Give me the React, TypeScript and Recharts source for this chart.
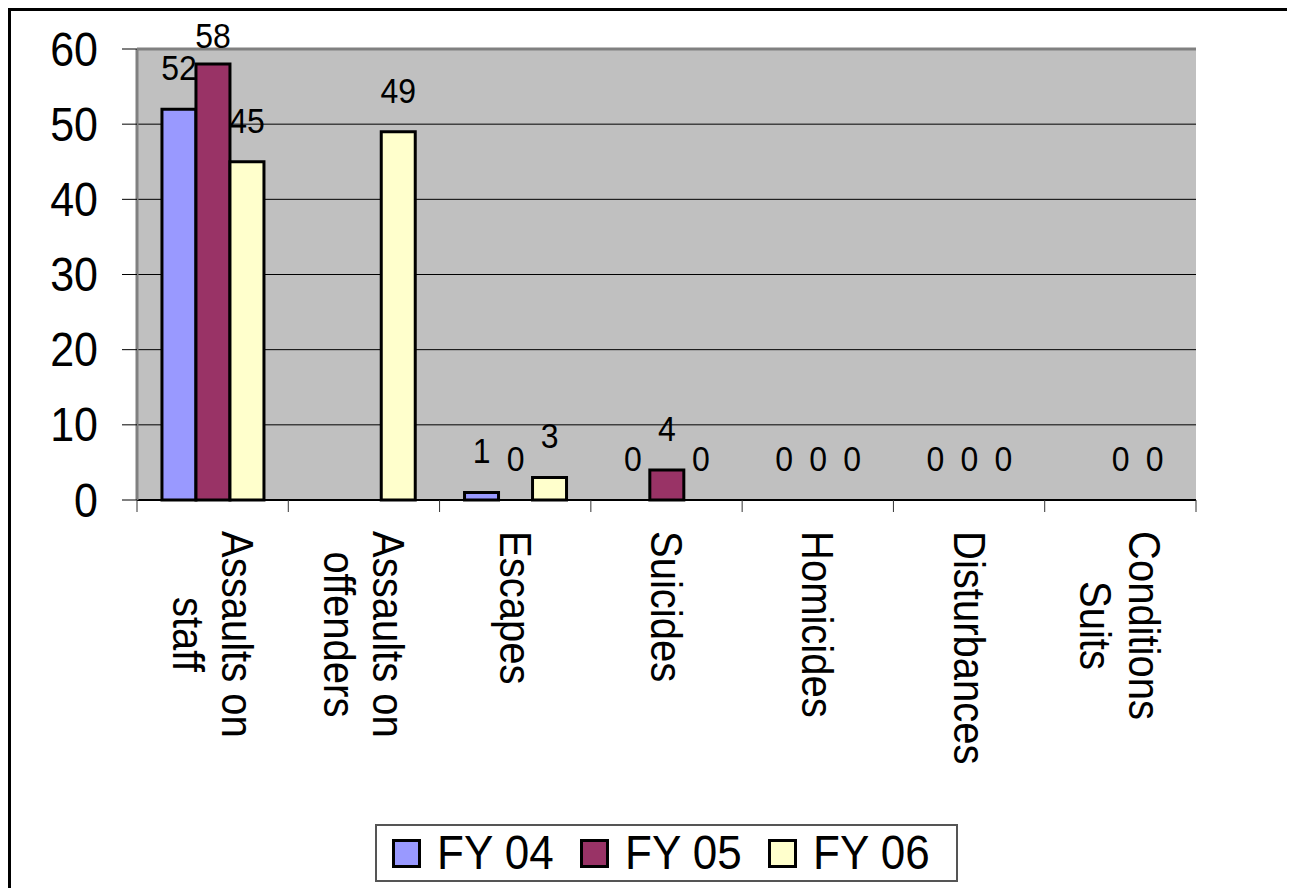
import { Bar, BarChart, CartesianGrid, LabelList, Rectangle, ReferenceLine, XAxis, YAxis } from "recharts";

const CATEGORIES = [
  "Assaults on\nstaff",
  "Assaults on\noffenders",
  "Escapes",
  "Suicides",
  "Homicides",
  "Disturbances",
  "Conditions\nSuits",
];
const FY04 = [52, null, 1, 0, 0, 0, null];
const FY05 = [58, null, 0, 4, 0, 0, 0];
const FY06 = [45, 49, 3, 0, 0, 0, 0];
const Y_TICKS = [0, 10, 20, 30, 40, 50, 60];

const SERIES = [
  { key: "fy04", name: "FY 04", color: "#9999FF" },
  { key: "fy05", name: "FY 05", color: "#993366" },
  { key: "fy06", name: "FY 06", color: "#FFFFCC" },
];

const data = CATEGORIES.map((name, i) => ({
  name,
  fy04: FY04[i],
  fy05: FY05[i],
  fy06: FY06[i],
}));

const FONT = '"Liberation Sans", Arial, sans-serif';
const W = 1281;
const H = 877;
const MARGIN = { top: 38, right: 96, bottom: 0, left: 0 };
const Y_AXIS_W = 126;
const PLOT_BOTTOM = 489;
const BAND = (W - MARGIN.right - MARGIN.left - Y_AXIS_W) / CATEGORIES.length;
const CAT_FONT = 40;
const CAT_LINE = 44.5;

let ctx: CanvasRenderingContext2D | null = null;
function measure(text: string) {
  if (!ctx) ctx = document.createElement("canvas").getContext("2d");
  if (!ctx) return text.length * CAT_FONT * 0.5;
  ctx.font = `${CAT_FONT}px "Liberation Sans", Arial, sans-serif`;
  return ctx.measureText(text).width;
}

function CategoryTick(props: any) {
  const { x, index, payload } = props;
  const lines = String(payload.value).split("\n");
  const maxW = Math.max(...lines.map(measure));
  const half = BAND / 2;
  return (
    <g>
      <line x1={x - half} x2={x - half} y1={PLOT_BOTTOM} y2={PLOT_BOTTOM + 12} stroke="#333" />
      {index === CATEGORIES.length - 1 && (
        <line x1={x + half} x2={x + half} y1={PLOT_BOTTOM} y2={PLOT_BOTTOM + 12} stroke="#333" />
      )}
      <text
        transform={`translate(${x},${PLOT_BOTTOM + 31}) rotate(90) scale(1,1.1)`}
        fontSize={CAT_FONT}
        fontFamily={FONT}
        fill="#000"
      >
        {lines.map((l, i) => (
          <tspan
            key={i}
            x={maxW / 2}
            y={(i - (lines.length - 1) / 2) * CAT_LINE + CAT_FONT * 0.35}
            textAnchor="middle"
          >
            {l}
          </tspan>
        ))}
      </text>
    </g>
  );
}

function ValueTick(props: any) {
  const { x, y, payload } = props;
  return (
    <text
      transform={`translate(${x},${y}) scale(1,1.1)`}
      textAnchor="end"
      dy={15}
      fontSize={43}
      fontFamily={FONT}
      fill="#000"
    >
      {payload.value}
    </text>
  );
}

function ValueLabel(props: any) {
  const { x, y, width, value } = props;
  if (value === null || value === undefined) return null;
  const by = Math.max(Number(y) - 29, 37);
  return (
    <text
      transform={`translate(${Number(x) + Number(width) / 2},${by}) scale(1,1.1)`}
      textAnchor="middle"
      fontSize={32}
      fontFamily={FONT}
      fill="#000"
    >
      {value}
    </text>
  );
}

// zero values still need their label, but no visible rectangle
function BarShape(props: any) {
  if (!(props.height >= 1)) return <g />;
  return <Rectangle {...props} />;
}

export default function App() {
  return (
    <div
      style={{
        position: "relative",
        width: 1287,
        height: 880,
        border: "3px solid #000",
        borderBottom: "none",
        boxSizing: "border-box",
        background: "#fff",
        fontFamily: FONT,
      }}
    >
      <BarChart
        width={W}
        height={H}
        data={data}
        margin={MARGIN}
        barCategoryGap="16.5%"
        barGap={0}
      >
        <CartesianGrid vertical={false} fill="#C0C0C0" stroke="#000" />
        <XAxis
          dataKey="name"
          interval={0}
          height={H - PLOT_BOTTOM}
          tickLine={false}
          axisLine={{ stroke: "#000", strokeWidth: 2 }}
          tick={<CategoryTick />}
        />
        <YAxis
          width={Y_AXIS_W}
          domain={[0, 60]}
          ticks={Y_TICKS}
          interval={0}
          tickSize={15}
          tickMargin={24}
          tickLine={{ stroke: "#000" }}
          axisLine={{ stroke: "#808080", strokeWidth: 3 }}
          tick={<ValueTick />}
        />
        <YAxis
          yAxisId="right"
          orientation="right"
          width={0}
          tick={false}
          tickLine={false}
          axisLine={{ stroke: "#808080", strokeWidth: 3 }}
        />
        <ReferenceLine y={60} stroke="#808080" strokeWidth={3} />
        {SERIES.map((s) => (
          <Bar
            key={s.key}
            dataKey={s.key}
            name={s.name}
            fill={s.color}
            stroke="#000"
            strokeWidth={3}
            minPointSize={0.5}
            shape={<BarShape />}
            isAnimationActive={false}
          >
            <LabelList dataKey={s.key} content={<ValueLabel />} />
          </Bar>
        ))}
      </BarChart>
      <div
        style={{
          position: "absolute",
          left: 364,
          top: 813,
          width: 583,
          height: 58,
          border: "2px solid #555",
          boxSizing: "border-box",
          background: "#fff",
          display: "flex",
          alignItems: "center",
          paddingLeft: 15,
        }}
      >
        {SERIES.map((s) => (
          <div key={s.key} style={{ display: "flex", alignItems: "center", width: 191 }}>
            <span
              style={{
                display: "inline-block",
                width: 29,
                height: 29,
                background: s.color,
                border: "3px solid #000",
                boxSizing: "border-box",
                marginRight: 16,
              }}
            />
            <span
              style={{
                display: "inline-block",
                fontSize: 44,
                lineHeight: "44px",
                transform: "scaleY(1.1)",
                color: "#000",
              }}
            >
              {s.name}
            </span>
          </div>
        ))}
      </div>
    </div>
  );
}
